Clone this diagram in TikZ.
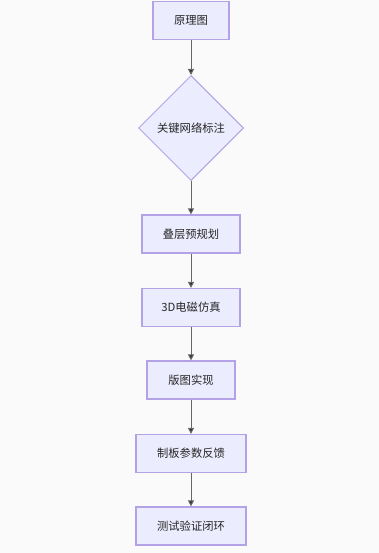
\documentclass[tikz,border=0pt]{standalone}
\usepackage{fontspec}
\setmainfont{Noto Sans CJK SC}
\usetikzlibrary{shapes.geometric,arrows.meta}
\definecolor{bg}{HTML}{FAFAFA}
\definecolor{nfill}{HTML}{ECECFF}
\definecolor{nline}{HTML}{B3A3E6}
\definecolor{eline}{HTML}{666666}
\begin{document}
\begin{tikzpicture}[x=1pt,y=-1pt,
  box/.style={draw=nline,fill=nfill,line width=1.2pt,minimum height=38pt,inner sep=0pt,font=\fontsize{11.3}{13}\selectfont,text=black!85},
  dia/.style={draw=nline,fill=nfill,line width=1pt,diamond,minimum width=105pt,minimum height=105pt,inner sep=0pt,font=\fontsize{11.3}{13}\selectfont,text=black!85},
  arr/.style={draw=eline,line width=1pt,-{Triangle[length=6pt,width=6pt,fill=black!80]}}]
\fill[bg] (0,0) rectangle (379,553);
\useasboundingbox (0,0) rectangle (379,553);
\node[box,minimum width=76pt] (a) at (191,20.5) {原理图};
\node[dia] (b) at (191,128) {关键网络标注};
\node[box,minimum width=98pt] (c) at (191,234) {叠层预规划};
\node[box,minimum width=98pt] (d) at (191,307.5) {3D电磁仿真};
\node[box,minimum width=88pt] (e) at (191,380) {版图实现};
\node[box,minimum width=110pt] (f) at (191,453.5) {制板参数反馈};
\node[box,minimum width=110pt] (g) at (191,526) {测试验证闭环};
\draw[arr] (a) -- (b);
\draw[arr] (b) -- (c);
\draw[arr] (c) -- (d);
\draw[arr] (d) -- (e);
\draw[arr] (e) -- (f);
\draw[arr] (f) -- (g);
\end{tikzpicture}
\end{document}
